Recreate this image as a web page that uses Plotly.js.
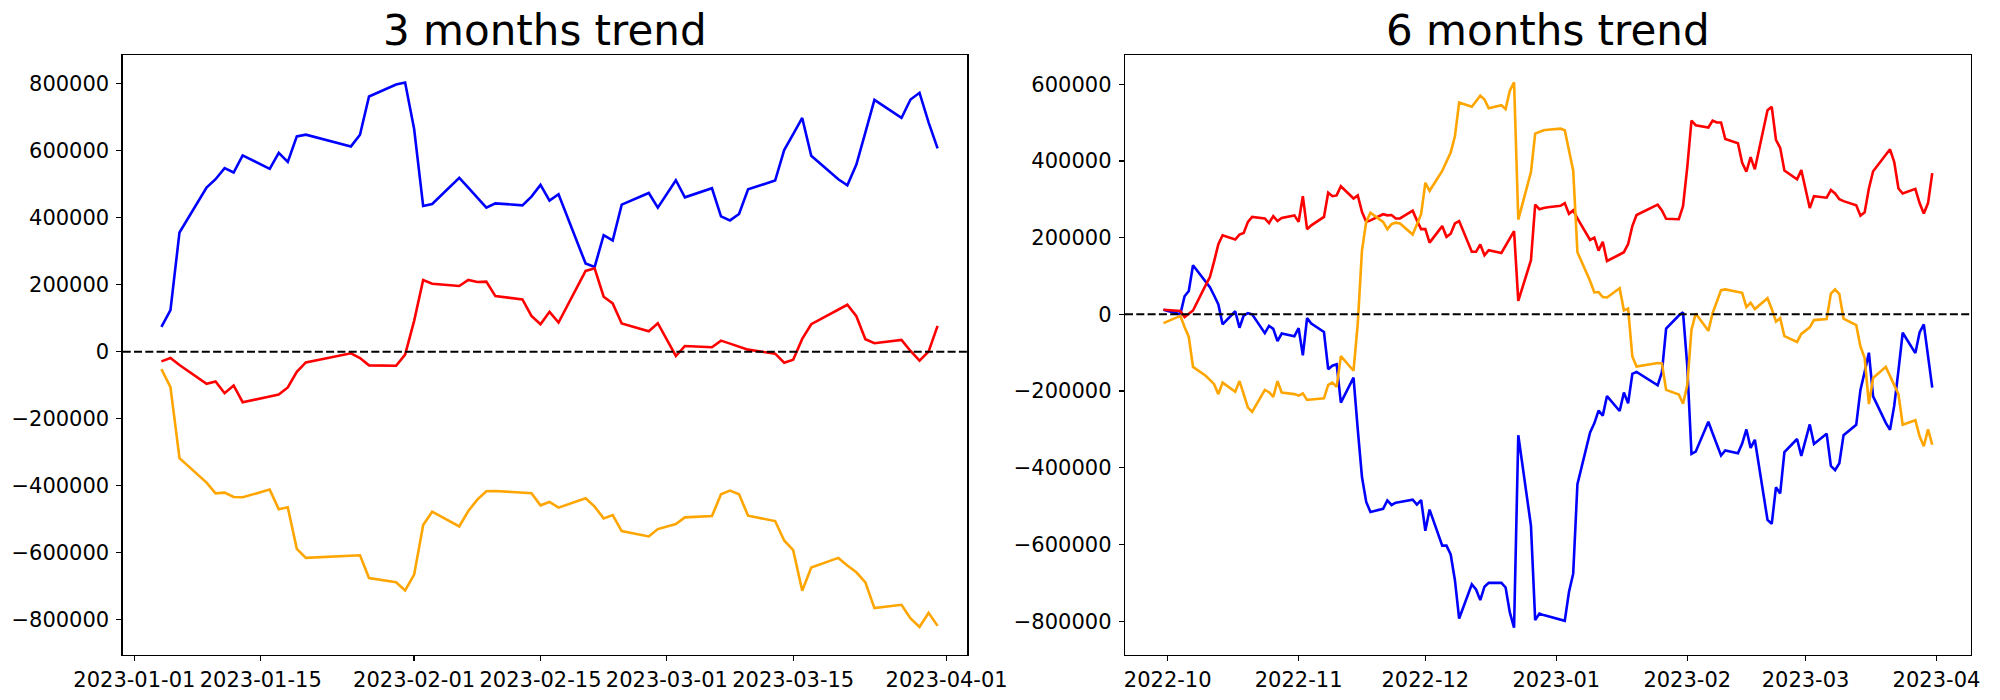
<!DOCTYPE html>
<html>
<head>
<meta charset="utf-8">
<script src="https://cdn.plot.ly/plotly-3.0.1.min.js"></script>
<style>html,body{margin:0;padding:0;background:#fff;}#chart{width:2000px;height:700px;}</style>
</head>
<body>
<div id="chart"></div>
<script>
// ---------- 3 months trend ----------
const dates3m = [
  "2023-01-04","2023-01-05","2023-01-06","2023-01-09","2023-01-10","2023-01-11","2023-01-12","2023-01-13",
  "2023-01-16","2023-01-17","2023-01-18","2023-01-19","2023-01-20","2023-01-25","2023-01-26","2023-01-27",
  "2023-01-30","2023-01-31",
  "2023-02-01","2023-02-02","2023-02-03","2023-02-06","2023-02-07","2023-02-08","2023-02-09","2023-02-10",
  "2023-02-13","2023-02-14","2023-02-15","2023-02-16","2023-02-17","2023-02-20","2023-02-21","2023-02-22",
  "2023-02-23","2023-02-24","2023-02-27","2023-02-28",
  "2023-03-02","2023-03-03","2023-03-06","2023-03-07","2023-03-08","2023-03-09","2023-03-10","2023-03-13",
  "2023-03-14","2023-03-15","2023-03-16","2023-03-17","2023-03-20","2023-03-21","2023-03-22","2023-03-23",
  "2023-03-24","2023-03-27","2023-03-28","2023-03-29","2023-03-30","2023-03-31"
];
const blue3m = [
  74000,124000,356000,490000,515000,548000,535000,586000,546000,594000,567000,643000,648000,613000,648000,762000,798000,804000,
  665000,435000,441000,519000,490000,459000,430000,443000,437000,463000,498000,451000,470000,263000,253000,348000,332000,439000,474000,430000,
  512000,461000,488000,404000,392000,411000,485000,511000,602000,650000,698000,585000,515000,497000,559000,655000,752000,698000,753000,773000,685000,607000
];
const red3m = [
  -29000,-19000,-40000,-96000,-89000,-124000,-101000,-151000,-134000,-128000,-107000,-60000,-32000,-5000,-19000,-41000,-42000,-9000,
  92000,214000,203000,196000,214000,208000,209000,166000,156000,107000,82000,119000,87000,241000,249000,164000,144000,84000,61000,85000,
  -13000,17000,13000,33000,24000,15000,6000,-6000,-33000,-24000,38000,82000,125000,140000,106000,37000,25000,35000,2000,-27000,0,77000
];
const orange3m = [
  -52000,-106000,-318000,-391000,-423000,-421000,-434000,-435000,-412000,-471000,-465000,-589000,-616000,-608000,-608000,-676000,-689000,-713000,
  -666000,-518000,-478000,-522000,-476000,-442000,-417000,-416000,-421000,-423000,-459000,-449000,-466000,-438000,-463000,-498000,-488000,-536000,-552000,-530000,
  -515000,-495000,-491000,-426000,-415000,-426000,-490000,-506000,-564000,-593000,-714000,-645000,-616000,-639000,-659000,-689000,-766000,-756000,-797000,-822000,-780000,-819000
];
const xTicks3m = ["2023-01-01","2023-01-15","2023-02-01","2023-02-15","2023-03-01","2023-03-15","2023-04-01"];
const xTickText3m = ["2023-01-01","2023-01-15","2023-02-01","2023-02-15","2023-03-01","2023-03-15","2023-04-01"];
const yTicks3m = [-800000,-600000,-400000,-200000,0,200000,400000,600000,800000];
const yTickText3m = ["−800000","−600000","−400000","−200000","0","200000","400000","600000","800000"];

// ---------- 6 months trend ----------
const dates6m = [
  "2022-09-30",
  "2022-10-04","2022-10-05","2022-10-06","2022-10-07","2022-10-10","2022-10-11","2022-10-12","2022-10-13","2022-10-14",
  "2022-10-17","2022-10-18","2022-10-19","2022-10-20","2022-10-21","2022-10-24","2022-10-25","2022-10-26","2022-10-27","2022-10-28","2022-10-31",
  "2022-11-01","2022-11-02","2022-11-03","2022-11-04","2022-11-07","2022-11-08","2022-11-09","2022-11-10","2022-11-11",
  "2022-11-14","2022-11-15","2022-11-16","2022-11-17","2022-11-18","2022-11-21","2022-11-22","2022-11-23","2022-11-24","2022-11-25",
  "2022-11-28","2022-11-29","2022-11-30",
  "2022-12-01","2022-12-02","2022-12-05","2022-12-06","2022-12-07","2022-12-08","2022-12-09","2022-12-12","2022-12-13","2022-12-14",
  "2022-12-15","2022-12-16","2022-12-19","2022-12-20","2022-12-21","2022-12-22","2022-12-23","2022-12-26","2022-12-27","2022-12-28",
  "2022-12-29","2022-12-30",
  "2023-01-02","2023-01-03","2023-01-04","2023-01-05","2023-01-06","2023-01-09","2023-01-10","2023-01-11","2023-01-12","2023-01-13",
  "2023-01-16","2023-01-17","2023-01-18","2023-01-19","2023-01-20","2023-01-25","2023-01-26","2023-01-27","2023-01-30","2023-01-31",
  "2023-02-01","2023-02-02","2023-02-03","2023-02-06","2023-02-07","2023-02-08","2023-02-09","2023-02-10",
  "2023-02-13","2023-02-14","2023-02-15","2023-02-16","2023-02-17","2023-02-20","2023-02-21","2023-02-22",
  "2023-02-23","2023-02-24","2023-02-27","2023-02-28",
  "2023-03-02","2023-03-03","2023-03-06","2023-03-07","2023-03-08","2023-03-09","2023-03-10","2023-03-13",
  "2023-03-14","2023-03-15","2023-03-16","2023-03-17","2023-03-20","2023-03-21","2023-03-22","2023-03-23",
  "2023-03-24","2023-03-27","2023-03-28","2023-03-29","2023-03-30","2023-03-31"
];
const blue6m = [
  12000,
  0,47000,61000,128000,85000,71000,49000,26000,-26000,
  8000,-35000,-3000,3000,0,-49000,-30000,-38000,-70000,-50000,-57000,
  -36000,-107000,-10000,-24000,-46000,-143000,-134000,-130000,-230000,
  -165000,-300000,-424000,-489000,-515000,-507000,-485000,-497000,-491000,-489000,
  -483000,-496000,-484000,
  -564000,-509000,-603000,-603000,-626000,-693000,-793000,-704000,-717000,-745000,
  -710000,-700000,-700000,-712000,-777000,-817000,-315000,-551000,-797000,-780000,
  -784000,-787000,
  -795000,-799000,-724000,-676000,-443000,-308000,-284000,-251000,-264000,-213000,
  -252000,-204000,-232000,-155000,-150000,-185000,-151000,-37000,-3000,5000,
  -134000,-364000,-358000,-280000,-310000,-340000,-368000,-355000,
  -362000,-337000,-300000,-348000,-327000,-536000,-546000,-451000,
  -467000,-359000,-325000,-369000,
  -287000,-338000,-311000,-395000,-406000,-388000,-315000,-288000,
  -197000,-150000,-100000,-214000,-283000,-301000,-238000,-146000,
  -48000,-101000,-47000,-26000,-115000,-191000
];
const red6m = [
  12000,
  9000,-7000,2000,10000,76000,97000,138000,183000,206000,
  195000,208000,212000,241000,254000,250000,238000,256000,243000,251000,258000,
  241000,308000,222000,232000,254000,317000,308000,310000,334000,
  302000,310000,267000,241000,245000,261000,258000,259000,250000,250000,
  270000,245000,222000,
  222000,187000,230000,202000,210000,237000,243000,163000,163000,182000,
  154000,167000,160000,179000,198000,217000,35000,141000,286000,274000,
  277000,279000,
  283000,290000,262000,271000,250000,194000,200000,166000,189000,139000,
  156000,162000,183000,230000,259000,286000,271000,249000,248000,282000,
  383000,505000,493000,487000,505000,500000,500000,457000,
  446000,395000,372000,410000,378000,532000,541000,455000,
  434000,375000,352000,376000,
  277000,308000,304000,324000,315000,300000,295000,284000,
  257000,266000,328000,373000,416000,430000,397000,328000,
  315000,327000,290000,263000,290000,368000
];
const orange6m = [
  -23000,
  -4000,-33000,-59000,-137000,-160000,-171000,-182000,-208000,-178000,
  -202000,-174000,-208000,-243000,-254000,-197000,-203000,-215000,-174000,-204000,-208000,
  -212000,-206000,-223000,-222000,-219000,-184000,-178000,-189000,-109000,
  -147000,-24000,167000,241000,265000,241000,222000,235000,239000,237000,
  208000,237000,261000,
  343000,322000,374000,397000,422000,464000,552000,541000,557000,570000,
  560000,537000,545000,535000,583000,605000,247000,371000,471000,476000,
  480000,481000,
  484000,480000,428000,375000,162000,87000,57000,58000,45000,44000,
  68000,10000,15000,-110000,-136000,-127000,-128000,-197000,-209000,-233000,
  -185000,-40000,2000,-43000,3000,36000,63000,65000,
  58000,56000,19000,30000,14000,42000,14000,-19000,
  -10000,-57000,-72000,-51000,
  -34000,-15000,-12000,54000,65000,53000,-11000,-28000,
  -84000,-114000,-234000,-166000,-137000,-161000,-185000,-208000,
  -288000,-276000,-318000,-344000,-300000,-340000
];
const xTicks6m = ["2022-10-01","2022-11-01","2022-12-01","2023-01-01","2023-02-01","2023-03-01","2023-04-01"];
const xTickText6m = ["2022-10","2022-11","2022-12","2023-01","2023-02","2023-03","2023-04"];
const yTicks6m = [-800000,-600000,-400000,-200000,0,200000,400000,600000];
const yTickText6m = ["−800000","−600000","−400000","−200000","0","200000","400000","600000"];

const titles = ["3 months trend","6 months trend"];
const seriesColors = {blue:"blue", red:"red", orange:"orange"};

// ---------- figure ----------
const FONT = "DejaVu Sans, Liberation Sans, sans-serif";
const LW = 2.6;
function line(x, y, color, xa, ya){
  return {type:"scatter", mode:"lines", x:x, y:y, xaxis:xa, yaxis:ya,
          line:{color:color, width:LW}, hoverinfo:"skip", showlegend:false};
}
const traces = [
  line(dates3m, blue3m, seriesColors.blue, "x", "y"),
  line(dates3m, red3m, seriesColors.red, "x", "y"),
  line(dates3m, orange3m, seriesColors.orange, "x", "y"),
  line(dates6m, blue6m, seriesColors.blue, "x2", "y2"),
  line(dates6m, red6m, seriesColors.red, "x2", "y2"),
  line(dates6m, orange6m, seriesColors.orange, "x2", "y2")
];

const axisCommon = {
  showgrid:false, zeroline:false, showline:true, mirror:true,
  linecolor:"black", linewidth:1.3,
  ticks:"outside", ticklen:5, tickwidth:1.3, tickcolor:"black",
  tickfont:{family:FONT, size:21, color:"black"}
};
const yDom = [1-655/700, 1-55/700];
const xDom1 = [122.7/2000, 967.3/2000];
const xDom2 = [1125/2000, 1970.7/2000];

const layout = {
  width:2000, height:700,
  margin:{l:0, r:0, t:0, b:0},
  paper_bgcolor:"white", plot_bgcolor:"white",
  showlegend:false,
  xaxis: Object.assign({}, axisCommon, {domain:xDom1, anchor:"y", type:"date",
    range:["2022-12-30 17:00","2023-04-03 07:00"], tickmode:"array", tickvals:xTicks3m, ticktext:xTickText3m}),
  yaxis: Object.assign({}, axisCommon, {domain:yDom, anchor:"x",
    range:[-906000, 886000], tickmode:"array", tickvals:yTicks3m, ticktext:yTickText3m, ticklabelstandoff:3}),
  xaxis2: Object.assign({}, axisCommon, {domain:xDom2, anchor:"y2", type:"date",
    range:["2022-09-20 21:36","2023-04-09 02:24"], tickmode:"array", tickvals:xTicks6m, ticktext:xTickText6m}),
  yaxis2: Object.assign({}, axisCommon, {domain:yDom, anchor:"x2",
    range:[-888000, 676000], tickmode:"array", tickvals:yTicks6m, ticktext:yTickText6m, ticklabelstandoff:3}),
  shapes:[
    {type:"line", xref:"x domain", yref:"y", x0:0, x1:1, y0:0, y1:0,
     line:{color:"black", width:2, dash:"8px,3.3px"}, layer:"above"},
    {type:"line", xref:"x2 domain", yref:"y2", x0:0, x1:1, y0:0, y1:0,
     line:{color:"black", width:2, dash:"8px,3.3px"}, layer:"above"}
  ],
  annotations:[
    {text:titles[0], xref:"paper", yref:"paper", x:(xDom1[0]+xDom1[1])/2, y:1-31/700,
     xanchor:"center", yanchor:"middle", showarrow:false, font:{family:FONT, size:42, color:"black"}},
    {text:titles[1], xref:"paper", yref:"paper", x:(xDom2[0]+xDom2[1])/2, y:1-31/700,
     xanchor:"center", yanchor:"middle", showarrow:false, font:{family:FONT, size:42, color:"black"}}
  ]
};

Plotly.newPlot("chart", traces, layout, {staticPlot:true, displayModeBar:false});
</script>
</body>
</html>
